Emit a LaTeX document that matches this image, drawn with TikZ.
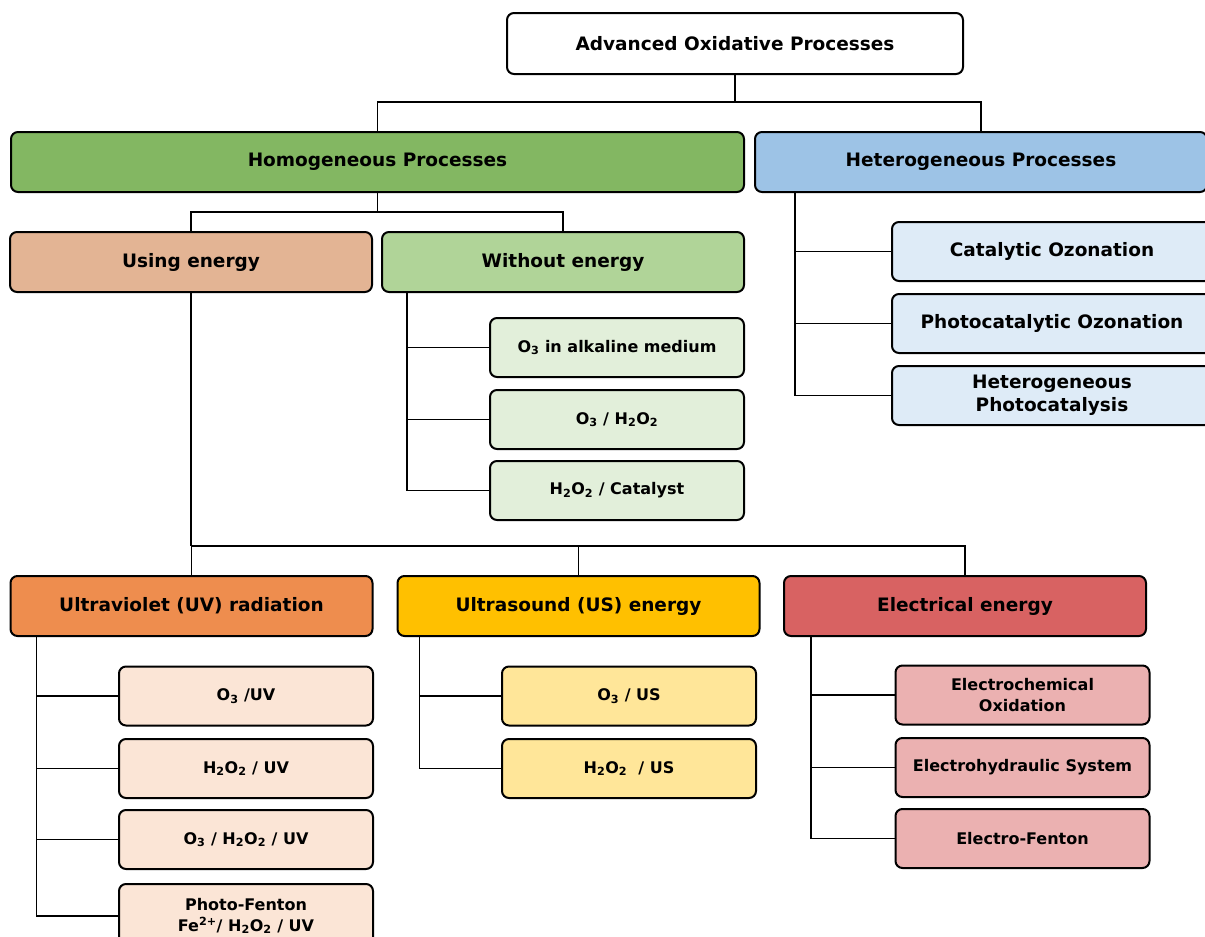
\documentclass[tikz,border=0pt]{standalone}
\usepackage{fontspec}
\setmainfont{DejaVu Sans}

\definecolor{homoG}{HTML}{83B762}
\definecolor{heteroB}{HTML}{9DC3E6}
\definecolor{usingO}{HTML}{E3B494}
\definecolor{withoutG}{HTML}{B0D498}
\definecolor{withoutL}{HTML}{E2EFDA}
\definecolor{heteroL}{HTML}{DEEBF7}
\definecolor{uvO}{HTML}{EE8D4E}
\definecolor{uvL}{HTML}{FBE5D6}
\definecolor{usY}{HTML}{FFC000}
\definecolor{usL}{HTML}{FFE699}
\definecolor{elecR}{HTML}{D86262}
\definecolor{elecL}{HTML}{EBB1B1}

\begin{document}
\begin{tikzpicture}[x=1pt,y=-1pt,
    box/.style={draw, rounded corners=7pt, line width=2pt, inner sep=0pt,
      align=center, font=\fontsize{18.5}{23}\selectfont\bfseries},
    head/.style={box, minimum width=362pt, minimum height=60pt},
    leaf/.style={box, minimum width=254pt, minimum height=59pt,
      font=\fontsize{16}{21}\selectfont\bfseries},
    link/.style={line width=1.6pt}]
      \useasboundingbox (0,0) rectangle (1205,937);
      % top level
      \node[box, minimum width=456pt, minimum height=61pt] (aop) at (735,43.5) {Advanced Oxidative Processes};
      \node[box, fill=homoG, minimum width=733pt, minimum height=60pt] (homo) at (377.5,162) {Homogeneous Processes};
      \node[box, fill=heteroB, minimum width=452pt, minimum height=60pt] (hetero) at (981,162) {Heterogeneous Processes};
      \draw[link] (aop.south) -- ++(0,27) coordinate (j1);
      \draw[link] (homo.north) |- (j1) -| (hetero.north);
      % homogeneous
      \node[head, fill=usingO] (using) at (191,262) {Using energy};
      \node[head, fill=withoutG] (without) at (563,262) {Without energy};
      \draw[link] (homo.south) -- ++(0,19) coordinate (j2);
      \draw[link] (using.north) |- (j2) -| (without.north);
      % without energy
      \node[leaf, fill=withoutL] (alk) at (617,347.5) {O\textsubscript{3} in alkaline medium};
      \node[leaf, fill=withoutL] (ozp) at (617,419.5) {O\textsubscript{3} / H\textsubscript{2}O\textsubscript{2}};
      \node[leaf, fill=withoutL] (cat) at (617,490.5) {H\textsubscript{2}O\textsubscript{2} / Catalyst};
      \coordinate (wv) at ([xshift=26pt]without.south west);
      \foreach \n in {alk,ozp,cat}
        \draw[link] (wv) |- (\n.west);
      % heterogeneous
      \node[box, fill=heteroL, minimum width=320pt, minimum height=59pt] (catoz) at (1052,251.5) {Catalytic Ozonation};
      \node[box, fill=heteroL, minimum width=320pt, minimum height=59pt] (phoz) at (1052,323.5) {Photocatalytic Ozonation};
      \node[box, fill=heteroL, minimum width=320pt, minimum height=59pt] (hetpc) at (1052,395.5) {Heterogeneous\\Photocatalysis};
      \coordinate (hv) at ([xshift=41pt]hetero.south west);
      \foreach \n in {catoz,phoz,hetpc}
        \draw[link] (hv) |- (\n.west);
      % using energy
      \node[head, fill=uvO] (uv) at (191.5,606) {Ultraviolet (UV) radiation};
      \node[head, fill=usY] (us) at (578.5,606) {Ultrasound (US) energy};
      \node[head, fill=elecR] (elec) at (965,606) {Electrical energy};
      \draw[link] (using.south) -- ++(0,253) coordinate (j3);
      \draw[link] (uv.north) |- (j3) -| (elec.north);
      \draw[link] (us.north) -- (us.north |- j3);
      % UV
      \node[leaf, fill=uvL] (ozuv) at (246,696) {O\textsubscript{3} /UV};
      \node[leaf, fill=uvL] (hpuv) at (246,768.5) {H\textsubscript{2}O\textsubscript{2} / UV};
      \node[leaf, fill=uvL] (ohuv) at (246,839.5) {O\textsubscript{3} / H\textsubscript{2}O\textsubscript{2} / UV};
      \node[leaf, fill=uvL, minimum height=64pt] (pfent) at (246,916) {Photo-Fenton\\Fe\textsuperscript{2+}/ H\textsubscript{2}O\textsubscript{2} / UV};
      \coordinate (uvv) at ([xshift=27pt]uv.south west);
      \foreach \n in {ozuv,hpuv,ohuv,pfent}
        \draw[link] (uvv) |- (\n.west);
      % US
      \node[leaf, fill=usL] (ozus) at (629,696) {O\textsubscript{3} / US};
      \node[leaf, fill=usL] (hpus) at (629,768.5) {H\textsubscript{2}O\textsubscript{2}~ / US};
      \coordinate (usv) at ([xshift=23pt]us.south west);
      \foreach \n in {ozus,hpus}
        \draw[link] (usv) |- (\n.west);
      % electrical
      \node[leaf, fill=elecL] (echox) at (1022.5,695) {Electrochemical\\Oxidation};
      \node[leaf, fill=elecL] (ehyd) at (1022.5,767.5) {Electrohydraulic System};
      \node[leaf, fill=elecL] (efent) at (1022.5,838.5) {Electro-Fenton};
      \coordinate (ev) at ([xshift=28pt]elec.south west);
      \foreach \n in {echox,ehyd,efent}
        \draw[link] (ev) |- (\n.west);
    \end{tikzpicture}
\end{document}
